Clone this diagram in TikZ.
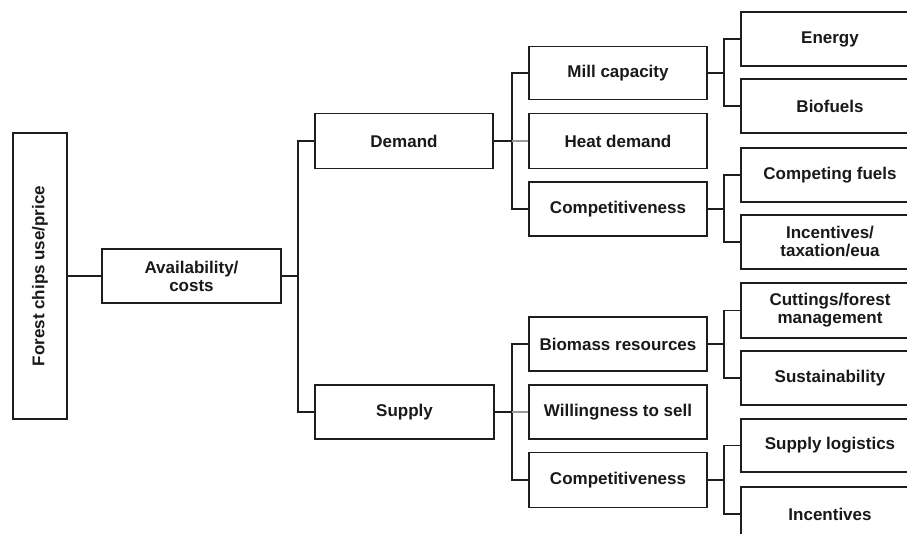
\documentclass[tikz,border=0pt]{standalone}
\usepackage{fontspec}
\setmainfont{Liberation Sans}
\begin{document}
\begin{tikzpicture}[x=1pt,y=-1pt,
  box/.style={draw=edgec, line width=1.5pt, fill=white, text=black!90,
    font=\fontsize{17}{18}\selectfont\bfseries, align=center, inner sep=0pt,
    minimum width=178pt, minimum height=54pt},
  conn/.style={draw=edgec, line width=1.4pt},
  faint/.style={draw=black!40, line width=1.4pt}]
\definecolor{edgec}{HTML}{1E1E1E}
\useasboundingbox (0,0) rectangle (907,534);
\clip (0,0) rectangle (907,534);

% root and first level
\node[box, minimum width=54pt, minimum height=286pt] (fc) at (40,276) {};
\node[rotate=90, font=\fontsize{17}{18}\selectfont\bfseries, text=black!90] (fct) at (fc.center) {Forest chips use/price};
\node[box, minimum width=179pt] (av) at (191.5,276) {Availability/\\costs};

% demand / supply
\node[box, minimum height=55pt] (dem) at (404,141) {Demand};
\node[box, minimum width=179pt] (sup) at (404.5,412) {Supply};

% demand factors
\node[box, minimum height=53pt] (mill) at (618,73) {Mill capacity};
\node[box, minimum height=55pt] (heat) at (618,141) {Heat demand};
\node[box] (compd) at (618,209) {Competitiveness};

% supply factors
\node[box] (bio) at (618,344) {Biomass resources};
\node[box] (will) at (618,412) {Willingness to sell};
\node[box, minimum height=55pt] (comps) at (618,480) {Competitiveness};

% third level
\node[box] (energy) at (830,39) {Energy};
\node[box] (biof) at (830,106) {Biofuels};
\node[box] (cfuel) at (830,175) {Competing fuels};
\node[box] (inctax) at (830,242) {Incentives/\\taxation/eua};
\node[box, minimum height=55pt] (cut) at (830,310.5) {Cuttings/forest\\management};
\node[box] (sust) at (830,378) {Sustainability};
\node[box, minimum height=53pt] (slog) at (830,445.5) {Supply logistics};
\node[box] (inc) at (830,514) {Incentives};

% branch points
\coordinate (j1) at (298,276);
\coordinate (j2) at (512,141);
\coordinate (j3) at (512,412);
\coordinate (k1) at (724,73);
\coordinate (k2) at (724,209);
\coordinate (k3) at (724,344);
\coordinate (k4) at (724,480);

% connectors
\draw[conn] (fc.east |- av.west) -- (av.west);
\draw[conn] (av.east) -- (j1);
\draw[conn] (dem.west) -| (j1) |- (sup.west);

\draw[conn] (dem.east) -- (j2);
\draw[conn] (mill.west) -| (j2) |- (compd.west);
\draw[faint] (j2) -- (heat.west);

\draw[conn] (sup.east) -- (j3);
\draw[conn] (bio.west) -| (j3) |- (comps.west);
\draw[faint] (j3) -- (will.west);

\draw[conn] (mill.east) -- (k1);
\draw[conn] (energy.west) -| (k1) |- (biof.west);
\draw[conn] (compd.east) -- (k2);
\draw[conn] (cfuel.west) -| (k2) |- (inctax.west);
\draw[conn] (bio.east) -- (k3);
\draw[conn] (cut.west) -| (k3) |- (sust.west);
\draw[conn] (comps.east) -- (k4);
\draw[conn] (slog.west) -| (k4) |- (inc.west);
\end{tikzpicture}
\end{document}
